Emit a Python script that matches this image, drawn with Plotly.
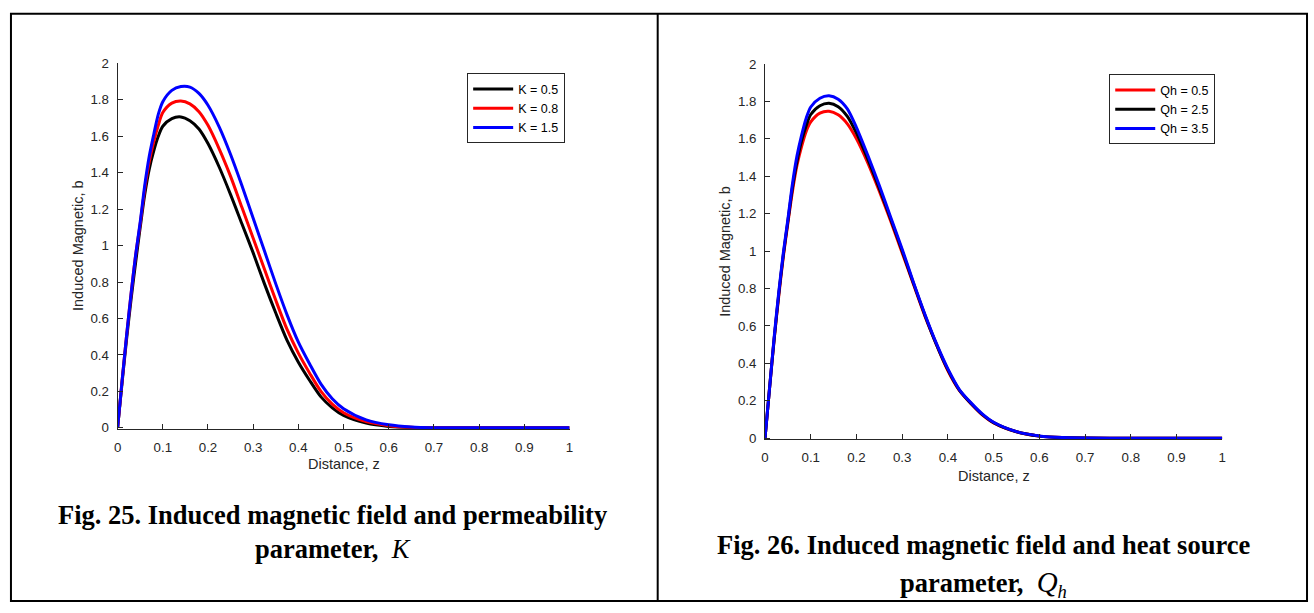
import plotly.graph_objects as go

# Distance grid shared by every curve
z = [0, 0.01, 0.02, 0.03, 0.04, 0.05, 0.06, 0.07, 0.08, 0.09, 0.10, 0.12, 0.14, 0.16,
     0.18, 0.20, 0.225, 0.25, 0.275, 0.30, 0.325, 0.35, 0.375, 0.40, 0.425, 0.45,
     0.475, 0.50, 0.55, 0.60, 0.65, 0.70, 0.80, 0.90, 1.0]

# Fig. 25: induced magnetic field b for the permeability parameter K
k_labels = ["K = 0.5", "K = 0.8", "K = 1.5"]
b_k05 = [0, 0.25, 0.49, 0.71, 0.91, 1.10, 1.28, 1.42, 1.52, 1.60, 1.655, 1.697, 1.706, 1.685,
         1.64, 1.56, 1.43, 1.28, 1.12, 0.96, 0.79, 0.63, 0.48, 0.36, 0.26, 0.17,
         0.11, 0.068, 0.026, 0.008, 0.002, 0.0, 0, 0, 0]
b_k08 = [0, 0.26, 0.51, 0.74, 0.95, 1.12, 1.31, 1.46, 1.57, 1.66, 1.73, 1.782, 1.794, 1.778,
         1.735, 1.66, 1.53, 1.38, 1.21, 1.04, 0.87, 0.70, 0.54, 0.41, 0.30, 0.20,
         0.13, 0.083, 0.034, 0.012, 0.003, 0.0005, 0, 0, 0]
b_k15 = [0, 0.26, 0.51, 0.74, 0.95, 1.13, 1.33, 1.49, 1.61, 1.72, 1.79, 1.852, 1.873, 1.870,
         1.835, 1.77, 1.65, 1.50, 1.33, 1.15, 0.97, 0.79, 0.62, 0.47, 0.35, 0.24,
         0.16, 0.105, 0.044, 0.017, 0.005, 0.001, 0, 0, 0]

# Fig. 26: induced magnetic field b for the heat source parameter Qh
qh_labels = ["Qh = 0.5", "Qh = 2.5", "Qh = 3.5"]
b_qh05 = [0, 0.27, 0.53, 0.76, 0.97, 1.15, 1.32, 1.46, 1.56, 1.64, 1.69, 1.737, 1.747, 1.728,
          1.68, 1.60, 1.47, 1.32, 1.16, 0.99, 0.82, 0.65, 0.50, 0.36, 0.255, 0.185,
          0.125, 0.082, 0.034, 0.011, 0.003, 0.0005, 0, 0, 0]
b_qh25 = [0, 0.27, 0.53, 0.77, 0.98, 1.16, 1.34, 1.48, 1.59, 1.67, 1.73, 1.777, 1.79, 1.772,
          1.72, 1.63, 1.49, 1.335, 1.17, 1.00, 0.825, 0.655, 0.50, 0.365, 0.257, 0.187,
          0.127, 0.083, 0.034, 0.011, 0.003, 0.0005, 0, 0, 0]
b_qh35 = [0, 0.27, 0.54, 0.78, 0.99, 1.17, 1.36, 1.51, 1.62, 1.71, 1.77, 1.817, 1.83, 1.812,
          1.76, 1.66, 1.51, 1.35, 1.18, 1.01, 0.83, 0.66, 0.505, 0.37, 0.26, 0.19,
          0.13, 0.085, 0.035, 0.012, 0.003, 0.0006, 0, 0, 0]

x_tick_vals = [0, 0.1, 0.2, 0.3, 0.4, 0.5, 0.6, 0.7, 0.8, 0.9, 1.0]
x_tick_text = ["0", "0.1", "0.2", "0.3", "0.4", "0.5", "0.6", "0.7", "0.8", "0.9", "1"]
y_tick_vals = [0, 0.2, 0.4, 0.6, 0.8, 1.0, 1.2, 1.4, 1.6, 1.8, 2.0]
y_tick_text = ["0", "0.2", "0.4", "0.6", "0.8", "1", "1.2", "1.4", "1.6", "1.8", "2"]

W, H = 1314, 613
AX = "#262626"
SANS = "Arial, Liberation Sans, sans-serif"
SERIF = "Times New Roman, Liberation Serif, serif"


def px(x):
    return x / W


def py(y):
    return 1 - y / H


fig = go.Figure()

left_series = [(b_k05, "black"), (b_k08, "red"), (b_k15, "blue")]
for (vals, col), name in zip(left_series, k_labels):
    fig.add_trace(go.Scatter(x=z, y=vals, mode="lines", name=name,
                             line=dict(color=col, width=3, shape="spline", smoothing=0.8),
                             xaxis="x", yaxis="y", legend="legend"))

right_series = [(b_qh05, "red"), (b_qh25, "black"), (b_qh35, "blue")]
for (vals, col), name in zip(right_series, qh_labels):
    fig.add_trace(go.Scatter(x=z, y=vals, mode="lines", name=name,
                             line=dict(color=col, width=3, shape="spline", smoothing=0.8),
                             xaxis="x2", yaxis="y2", legend="legend2"))

axis_common = dict(showline=True, linecolor=AX, linewidth=1, ticks="inside", ticklen=5,
                   tickcolor=AX, tickwidth=1, showgrid=False, zeroline=False, mirror=False,
                   tickfont=dict(family=SANS, size=13.3, color=AX))

xr = dict(range=[0, 1], tickvals=x_tick_vals, ticktext=x_tick_text,
          ticklabelstandoff=6, **axis_common)
yr = dict(range=[-0.006, 2], tickvals=y_tick_vals, ticktext=y_tick_text,
          ticklabelstandoff=5, **axis_common)

legend_common = dict(xanchor="left", yanchor="top", bgcolor="white", bordercolor=AX,
                     borderwidth=1, font=dict(family=SANS, size=12.5, color="black"),
                     itemwidth=40, tracegroupgap=0)

fig.update_layout(
    width=W, height=H,
    margin=dict(l=0, r=0, t=0, b=0),
    paper_bgcolor="white", plot_bgcolor="white",
    xaxis=dict(domain=[px(114.3), px(569)], anchor="y", **xr),
    yaxis=dict(domain=[py(431.8), py(57.7)], anchor="x", **yr),
    xaxis2=dict(domain=[px(765.7), px(1225.7)], anchor="y2", **xr),
    yaxis2=dict(domain=[py(442.4), py(58.3)], anchor="x2", **yr),
    legend=dict(x=px(466), y=py(68), **legend_common),
    legend2=dict(x=px(1112), y=py(69), **legend_common),
    showlegend=True,
)

# Axis titles
annotations = [
    dict(text="Induced Magnetic, b", x=px(75), y=py(244), textangle=-90,
         font=dict(family=SANS, size=14.5, color=AX)),
    dict(text="Distance, z", x=px(342), y=py(468),
         font=dict(family=SANS, size=14.5, color=AX)),
    dict(text="Induced Magnetic, b", x=px(726), y=py(250), textangle=-90,
         font=dict(family=SANS, size=14.5, color=AX)),
    dict(text="Distance, z", x=px(996), y=py(480),
         font=dict(family=SANS, size=14.5, color=AX)),
    # Figure captions
    dict(text="<b>Fig. 25. Induced magnetic field and permeability</b>", x=px(331), y=py(520),
         font=dict(family=SERIF, size=26.5, color="black")),
    dict(text="<b>parameter,</b>  <i>K</i>", x=px(331), y=py(555),
         font=dict(family=SERIF, size=26.5, color="black")),
    dict(text="<b>Fig. 26. Induced magnetic field and heat source</b>", x=px(985), y=py(551),
         font=dict(family=SERIF, size=26.5, color="black")),
    dict(text="<b>parameter,</b>  <span style='font-size:29px'><i>Q</i></span><sub><i>h</i></sub>",
         x=px(985), y=py(590), font=dict(family=SERIF, size=26.5, color="black")),
]
for a in annotations:
    a.update(xref="paper", yref="paper", showarrow=False, xanchor="center", yanchor="middle")
fig.update_layout(annotations=annotations)

# Table borders around the two panels
border = dict(color="black", width=2)
shapes = [
    dict(type="rect", x0=px(7), x1=px(1311), y0=py(7), y1=py(608), line=border),
    dict(type="line", x0=px(657.7), x1=px(657.7), y0=py(7), y1=py(608), line=border),
]
for s in shapes:
    s.update(xref="paper", yref="paper", layer="above")
fig.update_layout(shapes=shapes)

fig.write_html("out.html")
